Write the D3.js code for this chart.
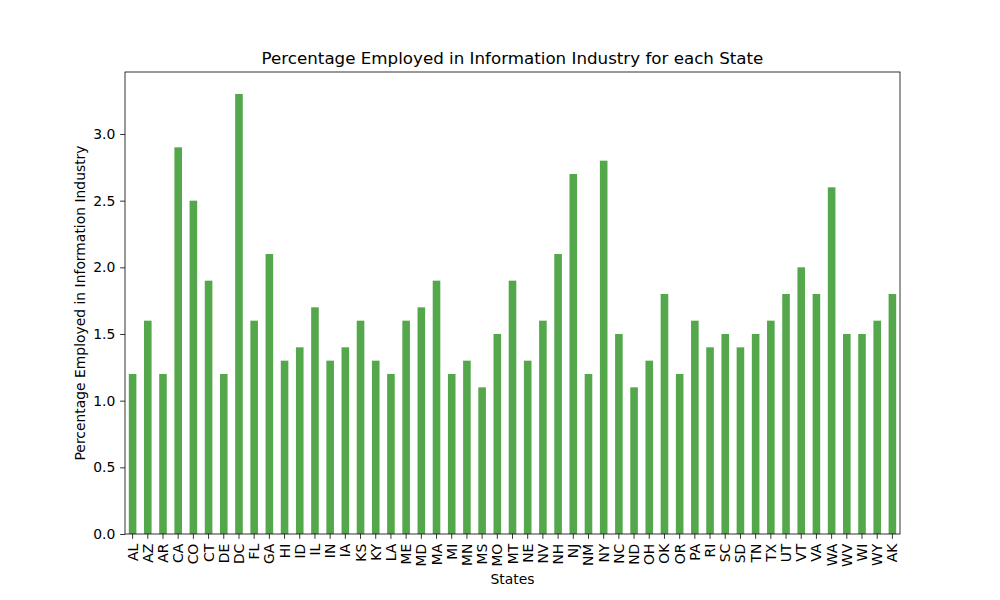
<!DOCTYPE html>
<html>
<head>
<meta charset="utf-8">
<script src="https://cdn.jsdelivr.net/npm/d3@7"></script>
<style>
  html, body { margin: 0; padding: 0; background: #fff; }
  svg text { font-family: "DejaVu Sans", sans-serif; fill: #000; }
</style>
</head>
<body>
<svg id="chart" width="1000" height="600"></svg>
<script>
const states = ["AL","AZ","AR","CA","CO","CT","DE","DC","FL","GA","HI","ID","IL","IN","IA","KS","KY","LA","ME","MD","MA","MI","MN","MS","MO","MT","NE","NV","NH","NJ","NM","NY","NC","ND","OH","OK","OR","PA","RI","SC","SD","TN","TX","UT","VT","VA","WA","WV","WI","WY","AK"];
const infoPct = [1.2,1.6,1.2,2.9,2.5,1.9,1.2,3.3,1.6,2.1,1.3,1.4,1.7,1.3,1.4,1.6,1.3,1.2,1.6,1.7,1.9,1.2,1.3,1.1,1.5,1.9,1.3,1.6,2.1,2.7,1.2,2.8,1.5,1.1,1.3,1.8,1.2,1.6,1.4,1.5,1.4,1.5,1.6,1.8,2.0,1.8,2.6,1.5,1.5,1.6,1.8];
const yTicks = [0.0,0.5,1.0,1.5,2.0,2.5,3.0];

const W = 1000, H = 600;
const m = { left: 125, right: 100, top: 72, bottom: 66 };
const pw = W - m.left - m.right, ph = H - m.top - m.bottom;
const svg = d3.select("#chart");
const g = svg.append("g").attr("transform", `translate(${m.left},${m.top})`);

const x = d3.scaleBand().domain(states).range([0, pw]).paddingInner(0.5).paddingOuter(0.25);
const y = d3.scaleLinear().domain([0, d3.max(infoPct) * 1.05]).range([ph, 0]);

g.selectAll("rect.bar").data(states).join("rect")
  .attr("class", "bar")
  .attr("x", d => x(d))
  .attr("width", x.bandwidth())
  .attr("y", (d, i) => y(infoPct[i]))
  .attr("height", (d, i) => y(0) - y(infoPct[i]))
  .attr("fill", "#54a84b");

const fs = "13.9px";
const yAxis = g.append("g")
  .call(d3.axisLeft(y).tickValues(yTicks).tickFormat(d3.format(".1f")).tickSize(4.86).tickPadding(4.86));
yAxis.select(".domain").remove();
yAxis.selectAll("text").style("font-size", fs).style("font-family", "DejaVu Sans");
yAxis.selectAll("line").attr("stroke", "#000").attr("stroke-width", 0.8);

const xAxis = g.append("g").attr("transform", `translate(0,${ph})`)
  .call(d3.axisBottom(x).tickSize(4.86).tickPadding(4.86));
xAxis.select(".domain").remove();
xAxis.selectAll("line").attr("stroke", "#000").attr("stroke-width", 0.8);
xAxis.selectAll("text")
  .style("font-size", fs).style("font-family", "DejaVu Sans")
  .attr("text-anchor", "end")
  .attr("dy", null)
  .attr("y", 0)
  .attr("x", 0)
  .attr("dominant-baseline", "central")
  .attr("transform", "translate(0,9.7) rotate(-90)");

g.append("rect").attr("x", 0).attr("y", 0).attr("width", pw).attr("height", ph)
  .attr("fill", "none").attr("stroke", "#000").attr("stroke-width", 0.8);

svg.append("text").attr("x", m.left + pw / 2).attr("y", 64)
  .attr("text-anchor", "middle").style("font-size", "16.7px")
  .text("Percentage Employed in Information Industry for each State");

svg.append("text").attr("x", m.left + pw / 2).attr("y", 584)
  .attr("text-anchor", "middle").style("font-size", fs).text("States");

svg.append("text")
  .attr("transform", `translate(85,${m.top + ph / 2}) rotate(-90)`)
  .attr("text-anchor", "middle").style("font-size", fs)
  .text("Percentage Employed in Information Industry");
</script>
</body>
</html>
